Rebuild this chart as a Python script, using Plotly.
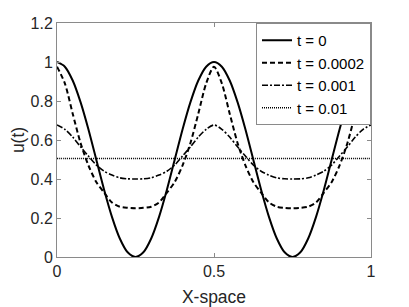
import plotly.graph_objects as go

x_vals = [i * 0.025 for i in range(41)]

u_t0 = [1.0, 0.976, 0.905, 0.794, 0.655, 0.5, 0.345, 0.206, 0.095, 0.024, 0.0,
        0.024, 0.095, 0.206, 0.345, 0.5, 0.655, 0.794, 0.905, 0.976, 1.0,
        0.976, 0.905, 0.794, 0.655, 0.5, 0.345, 0.206, 0.095, 0.024, 0.0,
        0.024, 0.095, 0.206, 0.345, 0.5, 0.655, 0.794, 0.905, 0.976, 1.0]

u_t0002 = [0.976, 0.89, 0.735, 0.585, 0.47, 0.385, 0.33, 0.28, 0.258, 0.252, 0.25,
           0.252, 0.258, 0.28, 0.33, 0.385, 0.47, 0.585, 0.735, 0.89, 0.976,
           0.89, 0.735, 0.585, 0.47, 0.385, 0.33, 0.28, 0.258, 0.252, 0.25,
           0.252, 0.258, 0.28, 0.33, 0.385, 0.47, 0.585, 0.735, 0.89, 0.976]

u_t001 = [0.677, 0.655, 0.615, 0.565, 0.518, 0.472, 0.44, 0.42, 0.406, 0.401, 0.40,
          0.401, 0.406, 0.42, 0.44, 0.472, 0.518, 0.565, 0.615, 0.655, 0.677,
          0.655, 0.615, 0.565, 0.518, 0.472, 0.44, 0.42, 0.406, 0.401, 0.40,
          0.401, 0.406, 0.42, 0.44, 0.472, 0.518, 0.565, 0.615, 0.655, 0.677]

u_t01 = [0.505] * 41

series_names = ["t = 0", "t = 0.0002", "t = 0.001", "t = 0.01"]
series_values = [u_t0, u_t0002, u_t001, u_t01]
dashes = ["solid", "5px,3px", "6px,2px,2px,2px", "1px,1px"]
widths = [2, 2, 1.6, 1.6]

y_ticks = [0, 0.2, 0.4, 0.6, 0.8, 1.0, 1.2]
y_tick_labels = ["0", "0.2", "0.4", "0.6", "0.8", "1", "1.2"]
x_ticks = [0, 0.5, 1]
x_tick_labels = ["0", "0.5", "1"]

fig = go.Figure()
for name, vals, d, w in zip(series_names, series_values, dashes, widths):
    fig.add_trace(go.Scatter(x=x_vals, y=vals, mode="lines", name=name,
                             line=dict(color="black", width=w, dash=d, shape="spline", smoothing=0.8)))

axis_common = dict(showline=True, linecolor="#8a8a8a", linewidth=1, mirror="ticks",
                   ticks="inside", ticklen=4, tickcolor="#8a8a8a", showgrid=False,
                   zeroline=False, automargin=False, tickfont=dict(size=16, color="#262626"))

fig.update_layout(
    width=401, height=299,
    margin=dict(l=49, r=38, t=15, b=50, pad=0),
    paper_bgcolor="white", plot_bgcolor="white",
    font=dict(family="Liberation Sans, Arial, sans-serif", size=16, color="#262626"),
    xaxis=dict(range=[0, 1], tickvals=x_ticks, ticktext=x_tick_labels,
               title=dict(text="X-space", font=dict(size=17.5), standoff=12), **axis_common),
    yaxis=dict(range=[0, 1.2], tickvals=y_ticks, ticktext=y_tick_labels,
               title=dict(text="u(t)", font=dict(size=17.5), standoff=14), **axis_common),
    legend=dict(x=1, y=1, xanchor="right", yanchor="top", bgcolor="white",
                bordercolor="#8a8a8a", borderwidth=1, font=dict(size=15, color="black"),
                itemwidth=30, tracegroupgap=0),
    showlegend=True,
)

fig.write_html("out.html")
